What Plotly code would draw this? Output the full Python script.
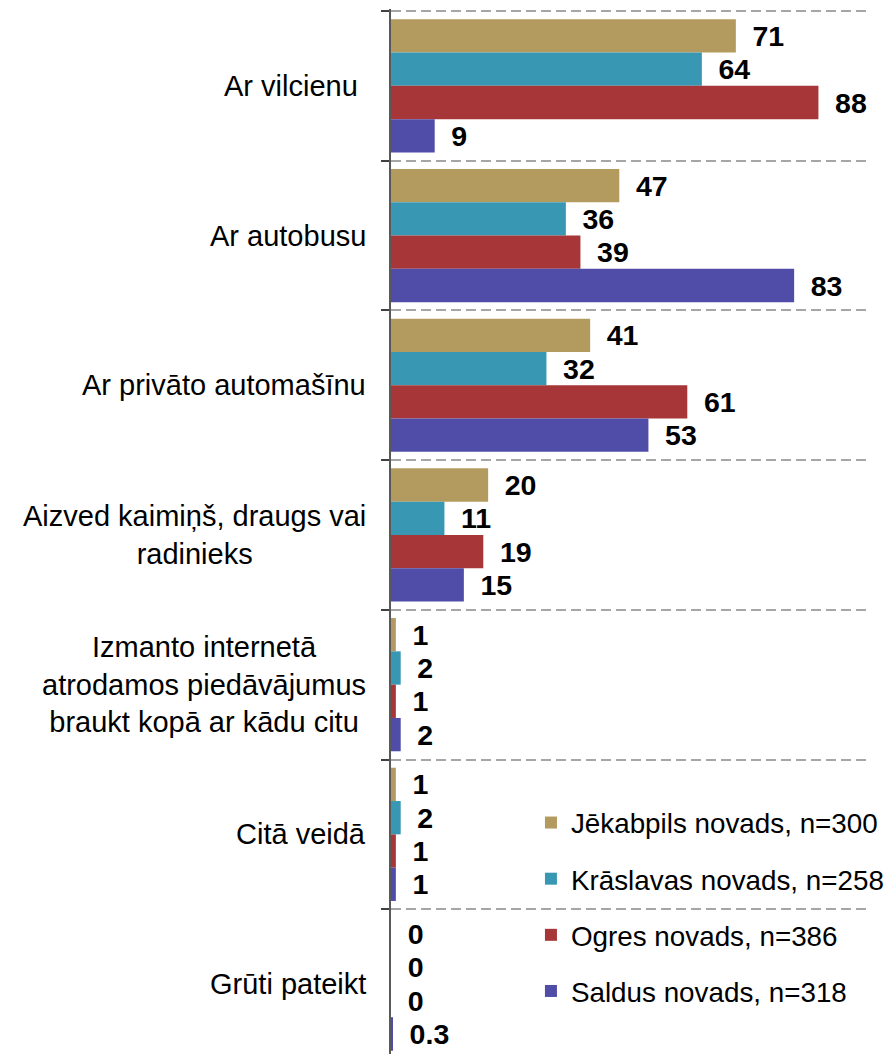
import plotly.graph_objects as go

categories = [
    "Ar vilcienu\u00a0",
    "Ar autobusu",
    "Ar privāto automašīnu",
    "Aizved kaimiņš, draugs vai<br>radinieks",
    "Izmanto internetā<br>atrodamos piedāvājumus<br>braukt kopā ar kādu citu",
    "Citā veidā",
    "Grūti pateikt",
]
series_names = [
    "Jēkabpils novads, n=300",
    "Krāslavas novads, n=258",
    "Ogres novads, n=386",
    "Saldus novads, n=318",
]
jekabpils = [71, 47, 41, 20, 1, 1, 0]
kraslavas = [64, 36, 32, 11, 2, 2, 0]
ogres = [88, 39, 61, 19, 1, 1, 0]
saldus = [9, 83, 53, 15, 2, 1, 0.3]
colors = ["#B39B5F", "#3898B3", "#A63638", "#504DA8"]

FONT = "Arial, Liberation Sans, sans-serif"
W, H = 889, 1054
ML, MR, MT, MB = 391, 11, 9, 0
band_px = 149.7

fig = go.Figure()
for i, (name, vals) in enumerate(zip(series_names, [jekabpils, kraslavas, ogres, saldus])):
    fig.add_trace(go.Bar(
        y=categories, x=vals, orientation="h", name=name,
        marker=dict(color=colors[i], line=dict(width=0)),
        text=vals, texttemplate="\u00a0\u2009%{x}", textposition="outside",
        textfont=dict(family=FONT, size=28.5, color="black", weight="bold"),
        cliponaxis=False, constraintext="none",
        legendgroup=str(i),
    ))

plot_h = H - MT - MB
ytop = -0.5 - 2 / band_px
ymax = ytop + plot_h / band_px

annotations = [
    dict(x=0, xref="paper", y=c, yref="y", text=c, showarrow=False,
         xanchor="right", yanchor="middle", align="center", xshift=-23,
         font=dict(family=FONT, size=29, color="black"))
    for c in categories
]

fig.update_layout(
    width=W, height=H,
    margin=dict(l=ML, r=MR, t=MT, b=MB),
    paper_bgcolor="white", plot_bgcolor="white",
    barmode="group", bargap=0.11, bargroupgap=0,
    font=dict(family=FONT, size=28, color="black"),
    showlegend=True,
    legend=dict(x=0.294, y=0.245, xanchor="left", yanchor="top",
                bgcolor="rgba(0,0,0,0)", tracegroupgap=17,
                font=dict(family=FONT, size=27.8, color="black"),
                traceorder="grouped"),
    annotations=annotations,
    xaxis=dict(range=[0, 98], autorange=False, showticklabels=False,
               showline=False, ticks="", showgrid=False, zeroline=False),
    yaxis=dict(type="category", range=[ymax, ytop], autorange=False,
               showticklabels=False,
               tickson="boundaries", ticks="outside", ticklen=8,
               tickcolor="#404040", tickwidth=1.5,
               showline=True, linecolor="#595959", linewidth=1.5,
               showgrid=True, gridcolor="#A6A6A6", gridwidth=2,
               griddash="10px,5px"),
)

fig.write_html("out.html", config={"displayModeBar": False},
               post_script="document.body.style.margin='0';document.body.style.overflow='hidden';")
